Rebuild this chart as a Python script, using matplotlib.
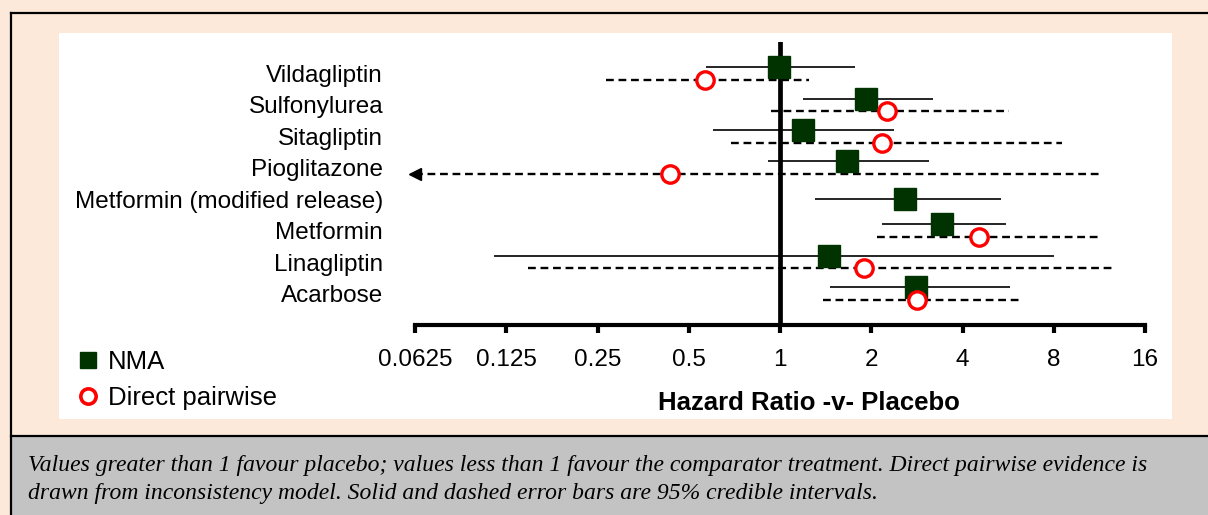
import numpy as np
import matplotlib
matplotlib.use("Agg")
import matplotlib.pyplot as plt
from matplotlib.patches import Rectangle
from matplotlib.lines import Line2D
from matplotlib.ticker import FixedLocator, NullLocator

# ---------------- data ----------------
drugs = ["Vildagliptin", "Sulfonylurea", "Sitagliptin", "Pioglitazone",
         "Metformin (modified release)", "Metformin", "Linagliptin", "Acarbose"]
nma_hr = [0.99, 1.92, 1.19, 1.66, 2.58, 3.42, 1.45, 2.81]
nma_lo = [0.57, 1.19, 0.60, 0.91, 1.30, 2.17, 0.114, 1.46]
nma_hi = [1.77, 3.20, 2.37, 3.09, 5.36, 5.58, 8.04, 5.75]
direct_hr = [0.565, 2.25, 2.17, 0.433, np.nan, 4.53, 1.89, 2.84]
direct_lo = [0.266, 0.934, 0.689, 0.05, np.nan, 2.09, 0.147, 1.39]
direct_hi = [1.25, 5.68, 8.53, 11.65, np.nan, 11.27, 12.73, 6.24]
xticks = [0.0625, 0.125, 0.25, 0.5, 1, 2, 4, 8, 16]
xticklabels = ["0.0625", "0.125", "0.25", "0.5", "1", "2", "4", "8", "16"]
legend_labels = ["NMA", "Direct pairwise"]
xlabel = "Hazard Ratio -v- Placebo"
caption1 = ("Values greater than 1 favour placebo; values less than 1 favour the comparator "
            "treatment. Direct pairwise evidence is")
caption2 = "drawn from inconsistency model. Solid and dashed error bars are 95% credible intervals."

# ---------------- style ----------------
PEACH = "#FDE9D9"
GRAY = "#C3C3C3"
GREEN = "#003300"
RED = "#FF0000"
SANS = ["Liberation Sans", "DejaVu Sans"]
SERIF = ["Liberation Serif", "DejaVu Serif"]
FS = 17.5

W, H = 1208, 515
fig = plt.figure(figsize=(W / 100, H / 100), dpi=100, facecolor=PEACH)


def fx(px):
    return px / W


def fy(py):
    return 1 - py / H


# background panels
fig.add_artist(Rectangle((fx(12), 0), 1 - fx(12), 79 / H, transform=fig.transFigure,
                         fc=GRAY, ec="none", zorder=-10))
fig.add_artist(Rectangle((fx(59), fy(419)), (1172 - 59) / W, (419 - 33) / H,
                         transform=fig.transFigure, fc="white", ec="none", zorder=-10))
for xs, ys in [([fx(11), fx(11)], [0, fy(13)]),
               ([fx(11), 1], [fy(13), fy(13)]),
               ([fx(11), 1], [fy(436), fy(436)])]:
    fig.add_artist(Line2D(xs, ys, transform=fig.transFigure, color="black",
                          lw=1.6, zorder=-5, solid_capstyle="projecting"))

ax = fig.add_axes([fx(415), fy(325), (1145 - 415) / W, (325 - 42) / H])
ax.patch.set_alpha(0)
ax.set_xscale("log", base=2)
xmin, xmax = xticks[0], xticks[-1]
ax.set_xlim(xmin, xmax)
ax.set_ylim(len(drugs), -1)

off = 0.2
for i in range(len(drugs)):
    has_direct = not np.isnan(direct_hr[i])
    y_n = i - off if has_direct else i
    ax.hlines(y_n, nma_lo[i], nma_hi[i], colors="black", lw=1.2, zorder=2)
    ax.plot(nma_hr[i], y_n, marker="s", ms=15.5, color=GREEN, ls="none", zorder=4)
    if has_direct:
        y_d = i + off
        lo = max(direct_lo[i], xmin)
        ax.hlines(y_d, lo, direct_hi[i], colors="black", lw=1.7,
                  linestyles=(0, (3.3, 2.0)), zorder=2)
        if direct_lo[i] < xmin:
            ax.plot(xmin, y_d, marker="<", ms=9, color="black", ls="none",
                    clip_on=False, zorder=3)
        ax.plot(direct_hr[i], y_d, marker="o", ms=12.5, mfc="white", mec=RED,
                mew=2.4, ls="none", zorder=5)

ax.axvline(1, color="black", lw=3.4, zorder=3)

for s in ["left", "right", "top"]:
    ax.spines[s].set_visible(False)
ax.spines["bottom"].set_linewidth(3)
ax.xaxis.set_major_locator(FixedLocator(xticks))
ax.xaxis.set_minor_locator(NullLocator())
ax.set_xticklabels(xticklabels, fontsize=FS, family=SANS)
ax.tick_params(axis="x", direction="out", length=6, width=3, pad=11)
ax.set_yticks(range(len(drugs)))
ax.set_yticklabels(drugs, fontsize=FS, family=SANS)
ax.tick_params(axis="y", length=0, pad=23)

fig.text(fx(809), fy(403), xlabel, ha="center", va="center", fontsize=18.5,
         fontweight="bold", family=SANS)

handles = [Line2D([], [], marker="s", ms=11.5, color=GREEN, ls="none"),
           Line2D([], [], marker="o", ms=11, mfc="white", mec=RED, mew=2.6, ls="none")]
fig.legend(handles, legend_labels, loc="center left", bbox_to_anchor=(fx(76), fy(380)),
           frameon=False, borderpad=0, borderaxespad=0, handlelength=0.95,
           handletextpad=0.3, labelspacing=0.5, prop={"family": SANS, "size": 18.5})

fig.text(fx(28), fy(466), caption1, ha="left", va="center", fontsize=17.0,
         style="italic", family=SERIF)
fig.text(fx(28), fy(493), caption2, ha="left", va="center", fontsize=17.0,
         style="italic", family=SERIF)

fig.savefig("out.png", dpi=100, facecolor=PEACH)
